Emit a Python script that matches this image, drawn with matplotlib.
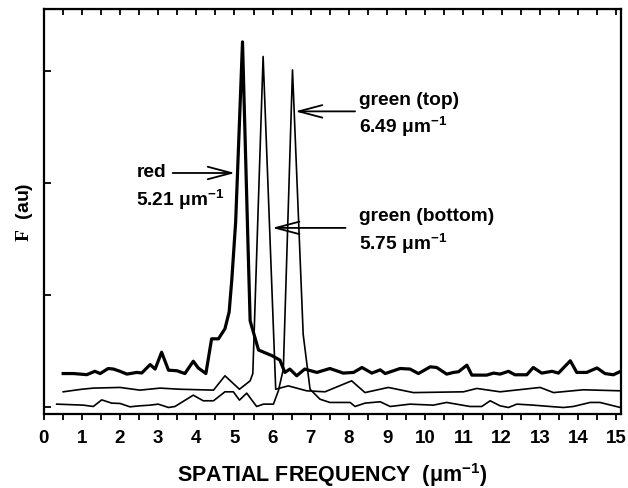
import matplotlib
matplotlib.use("Agg")
import matplotlib.pyplot as plt
from matplotlib.ticker import MultipleLocator

plt.rcParams["font.family"] = ["Liberation Sans", "DejaVu Sans"]
plt.rcParams["font.weight"] = "bold"
plt.rcParams["mathtext.fontset"] = "custom"
plt.rcParams["mathtext.rm"] = "Liberation Sans:bold"
plt.rcParams["mathtext.cal"] = "Liberation Serif"
plt.rcParams["mathtext.default"] = "rm"

# red line (thick), peak at 5.21
red_x = [0.51, 0.78, 1.13, 1.34, 1.48, 1.69, 1.83, 2.0, 2.18, 2.44, 2.57, 2.79, 2.92,
         3.09, 3.27, 3.49, 3.70, 3.92, 4.05, 4.25, 4.40, 4.58, 4.75, 4.86, 4.93, 5.03,
         5.21, 5.35, 5.41, 5.63, 5.98, 6.19, 6.32, 6.45, 6.63, 6.84, 7.16, 7.50, 7.85,
         8.12, 8.34, 8.60, 8.82, 8.95, 9.34, 9.60, 9.82, 10.13, 10.30, 10.56, 10.74,
         10.87, 11.09, 11.22, 11.61, 11.79, 11.96, 12.18, 12.35, 12.66, 12.83, 13.05,
         13.32, 13.49, 13.80, 13.97, 14.23, 14.50, 14.71, 14.93, 15.12]
red_y = [0.30, 0.30, 0.29, 0.32, 0.30, 0.345, 0.34, 0.32, 0.295, 0.31, 0.305, 0.38, 0.34,
         0.49, 0.33, 0.325, 0.30, 0.41, 0.35, 0.30, 0.61, 0.61, 0.70, 0.85, 1.14, 1.65,
         3.26, 1.50, 0.77, 0.51, 0.46, 0.42, 0.31, 0.34, 0.28, 0.34, 0.31, 0.345, 0.304,
         0.31, 0.354, 0.304, 0.333, 0.30, 0.345, 0.34, 0.30, 0.36, 0.354, 0.295, 0.31,
         0.316, 0.375, 0.286, 0.286, 0.304, 0.295, 0.32, 0.289, 0.289, 0.354, 0.304,
         0.32, 0.304, 0.414, 0.31, 0.31, 0.35, 0.30, 0.289, 0.32]

# green (bottom), peak at 5.75
gb_x = [0.51, 1.0, 1.30, 2.0, 2.52, 3.05, 3.57, 4.45, 4.75, 5.13, 5.41, 5.48, 5.75,
        6.08, 6.41, 6.89, 7.37, 8.07, 8.42, 9.03, 9.69, 11.0, 11.35, 11.96, 13.01,
        13.36, 14.14, 15.11]
gb_y = [0.137, 0.16, 0.17, 0.176, 0.152, 0.17, 0.16, 0.152, 0.28, 0.16, 0.235, 0.30,
        3.13, 0.16, 0.19, 0.146, 0.137, 0.235, 0.13, 0.176, 0.13, 0.137, 0.167, 0.137,
        0.176, 0.13, 0.155, 0.146]

# green (top), peak at 6.49
gt_x = [0.34, 1.04, 1.30, 1.52, 1.78, 2.0, 2.26, 2.52, 2.79, 3.0, 3.27, 3.44, 3.92,
        4.18, 4.45, 4.75, 4.97, 5.13, 5.32, 5.58, 5.76, 6.02, 6.15, 6.28, 6.52, 6.80,
        6.98, 7.24, 7.50, 8.03, 8.16, 8.42, 8.82, 9.08, 9.60, 10.21, 10.56, 11.17,
        11.48, 11.70, 11.96, 12.18, 12.40, 12.83, 13.27, 13.62, 13.88, 14.32, 14.58, 15.11]
gt_y = [0.027, 0.018, 0.006, 0.065, 0.036, 0.033, 0.003, 0.012, 0.018, 0.027, -0.003,
        0.006, 0.107, 0.057, 0.057, 0.137, 0.137, 0.063, 0.125, 0.006, 0.027, 0.027,
        0.146, 0.34, 3.01, 0.65, 0.16, 0.071, 0.042, 0.042, 0.006, 0.036, 0.048, 0.006,
        0.027, 0.018, 0.042, 0.006, 0.006, 0.057, 0.012, -0.003, 0.027, 0.018, 0.006,
        -0.003, 0.006, 0.042, 0.042, -0.003]

fig = plt.figure(figsize=(6.28, 4.89), dpi=100)
ax = fig.add_axes([0.0696, 0.151, 0.9193, 0.8286])

ax.plot(red_x, red_y, color="black", lw=2.3)
ax.plot(gb_x, gb_y, color="black", lw=1.2)
ax.plot(gt_x, gt_y, color="black", lw=1.2)

ax.set_xlim(0, 15.13)
ax.set_ylim(-0.0625, 3.554)

# axes styling: bottom ticks outward, top ticks inward, left ticks inward
for s in ax.spines.values():
    s.set_linewidth(1.6)
ax.xaxis.set_major_locator(MultipleLocator(1))
ax.xaxis.set_minor_locator(MultipleLocator(0.5))
ax.yaxis.set_major_locator(MultipleLocator(1))
ax.tick_params(axis="x", which="both", direction="out", length=4, width=1.3,
               labelsize=13.5, pad=7)
ax.tick_params(axis="y", which="both", direction="in", left=True, right=False,
               length=5, width=1.3, labelleft=False)
for lab in ax.get_xticklabels():
    lab.set_fontweight("bold")

top = ax.secondary_xaxis("top")
top.xaxis.set_major_locator(MultipleLocator(0.5))
top.tick_params(axis="x", direction="in", length=4, width=1.3, labeltop=False)

ax.set_xlabel(r"SPATIAL FREQUENCY  ($\mu$m$^{-1}$)", fontsize=15.5, fontweight="bold",
              labelpad=10)
ax.set_ylabel(r"$\mathcal{F}$  (au)", fontsize=14, fontweight="bold", labelpad=6)

# annotations
arrow = dict(arrowstyle="->,head_length=1.7,head_width=0.45", lw=1.3, color="black",
             shrinkA=0, shrinkB=0, mutation_scale=10)
ax.annotate("", xy=(5.01, 2.09), xytext=(3.38, 2.09), arrowprops=arrow)
ax.annotate("", xy=(6.59, 2.64), xytext=(8.16, 2.64), arrowprops=arrow)
ax.annotate("", xy=(5.99, 1.60), xytext=(7.91, 1.60), arrowprops=arrow)

tsize = 13.8
ax.text(2.43, 2.10, "red", fontsize=tsize, fontweight="bold", va="center")
ax.text(2.43, 1.86, r"5.21 $\mu$m$^{-1}$", fontsize=tsize, fontweight="bold", va="center")
ax.text(8.25, 2.75, "green (top)", fontsize=tsize, fontweight="bold", va="center")
ax.text(8.25, 2.51, r"6.49 $\mu$m$^{-1}$", fontsize=tsize, fontweight="bold", va="center")
ax.text(8.25, 1.71, "green (bottom)", fontsize=tsize, fontweight="bold", va="center")
ax.text(8.25, 1.47, r"5.75 $\mu$m$^{-1}$", fontsize=tsize, fontweight="bold", va="center")

fig.savefig("out.png", dpi=100)
